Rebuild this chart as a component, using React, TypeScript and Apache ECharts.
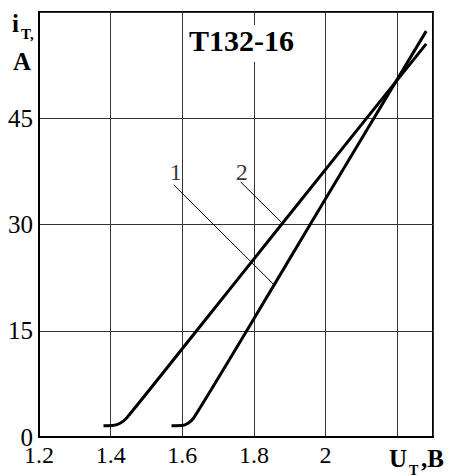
import React, { useEffect, useRef } from "react";
import * as echarts from "echarts";

// Curve 1 (steeper, right) and curve 2 (left) – forward voltage U_T (V) vs current i_T (A)
const curve1U = [1.57, 1.60, 1.615, 1.632, 1.78, 1.957, 2.281];
const curve1I = [1.6, 1.62, 1.9, 2.7, 15, 30, 57.3];
const curve2U = [1.38, 1.405, 1.425, 1.445, 1.64, 1.877, 2.281];
const curve2I = [1.6, 1.62, 1.9, 2.7, 15, 30, 55.5];

// Leader lines for the curve numbers
const leader1U = [1.576, 1.854];
const leader1I = [35.6, 21.6];
const leader2U = [1.763, 1.877];
const leader2I = [36.0, 30.3];
const curveNames = ["1", "2"];

const xTicks = [1.2, 1.4, 1.6, 1.8, 2.0];
const yTicks = [0, 15, 30, 45];
const title = "T132-16";

const SERIF = "Liberation Serif, Times New Roman, serif";

const zip = (a: number[], b: number[]) => a.map((v, i) => [v, b[i]]);

export default function App() {
  const ref = useRef<HTMLDivElement>(null);
  useEffect(() => {
    if (!ref.current) return;
    const chart = echarts.init(ref.current, null, { renderer: "svg" });
    const leaderSeries = (data: number[][]) => ({
      type: "line",
      data,
      symbol: "none",
      silent: true,
      lineStyle: { color: "#000", width: 1 },
      z: 3,
    });
    const labelSeries = (pt: number[], name: string, off: number[]) => ({
      type: "scatter",
      data: [pt],
      symbol: "circle",
      symbolSize: 1,
      silent: true,
      itemStyle: { color: "rgba(0,0,0,0)" },
      label: {
        show: true,
        position: "top",
        distance: 0,
        offset: off,
        formatter: name,
        fontFamily: SERIF,
        fontSize: 24,
        color: "#000",
      },
      z: 5,
    });
    const txt = (x: number, y: number, text: string, size: number) => ({
      type: "text",
      x,
      y,
      z: 11,
      style: {
        text,
        fontFamily: SERIF,
        fontSize: size,
        fontWeight: "bold",
        fill: "#000",
        verticalAlign: "middle",
      },
    });
    chart.setOption({
      animation: false,
      backgroundColor: "#fff",
      textStyle: { fontFamily: SERIF },
      grid: {
        left: 39,
        top: 12,
        width: 394,
        height: 425,
        show: true,
        borderColor: "#000",
        borderWidth: 2,
      },
      xAxis: {
        type: "value",
        min: 1.2,
        max: 2.3,
        interval: 0.2,
        axisLine: { show: true, lineStyle: { color: "#000", width: 2 } },
        axisTick: { show: false },
        splitLine: { show: true, lineStyle: { color: "#333", width: 1 } },
        axisLabel: {
          margin: 6,
          fontFamily: SERIF,
          fontSize: 24,
          color: "#000",
          formatter: (v: number) => {
            const r = Math.round(v * 10) / 10;
            return xTicks.some((t) => Math.abs(t - r) < 1e-6) ? String(r) : "";
          },
        },
      },
      yAxis: {
        type: "value",
        min: 0,
        max: 60,
        interval: 15,
        axisLine: { show: true, lineStyle: { color: "#000", width: 2 } },
        axisTick: { show: false },
        splitLine: { show: true, lineStyle: { color: "#333", width: 1 } },
        axisLabel: {
          margin: 6,
          fontFamily: SERIF,
          fontSize: 25,
          color: "#000",
          formatter: (v: number) => (yTicks.indexOf(v) >= 0 ? String(v) : ""),
        },
      },
      series: [
        {
          type: "line",
          name: "1",
          data: zip(curve1U, curve1I),
          symbol: "none",
          smooth: 0.25,
          lineStyle: { color: "#000", width: 3 },
          z: 4,
        },
        {
          type: "line",
          name: "2",
          data: zip(curve2U, curve2I),
          symbol: "none",
          smooth: 0.25,
          lineStyle: { color: "#000", width: 3 },
          z: 4,
        },
        leaderSeries(zip(leader1U, leader1I)),
        leaderSeries(zip(leader2U, leader2I)),
        labelSeries([leader1U[0], leader1I[0]], curveNames[0], [2, 0]),
        labelSeries([leader2U[0], leader2I[0]], curveNames[1], [1, 2]),
      ],
      graphic: [
        { type: "rect", shape: { x: 185, y: 25, width: 115, height: 37 }, style: { fill: "#fff" }, z: 10 },
        txt(189, 40, title, 30),
        txt(12, 23.5, "i", 25),
        txt(21, 33.5, "T,", 15),
        txt(13, 61, "A", 25),
        txt(389, 458.5, "U", 25),
        txt(409, 470, "T", 14),
        txt(421, 458.5, ",B", 25),
      ],
    });
    return () => chart.dispose();
  }, []);
  return (
    <div
      ref={ref}
      style={{ position: "fixed", left: 0, top: 0, width: 455, height: 476, background: "#fff" }}
    />
  );
}
